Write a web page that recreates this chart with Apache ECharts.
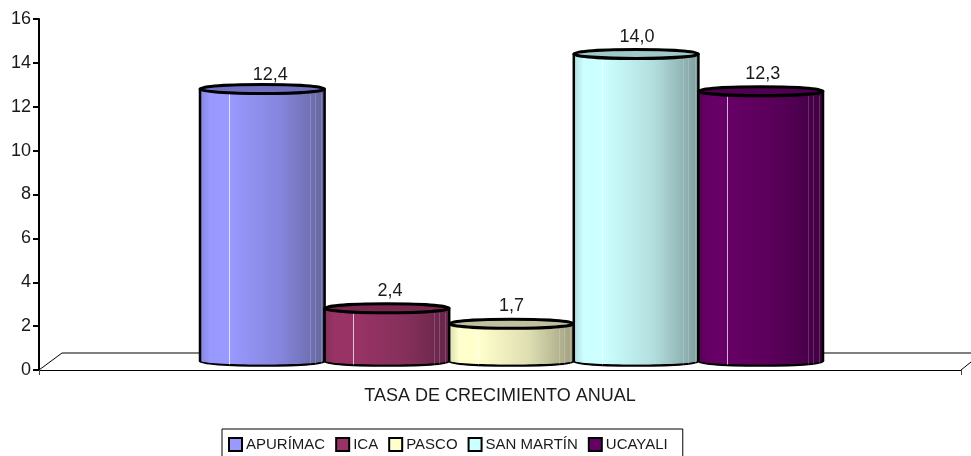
<!DOCTYPE html>
<html><head><meta charset="utf-8">
<style>html,body{margin:0;padding:0;background:#fff}#c{width:971px;height:456px}</style>
<script src="https://cdn.jsdelivr.net/npm/echarts@6/dist/echarts.min.js"></script>
</head><body><div id="c"></div>
<script>
const regions = ['APURÍMAC','ICA','PASCO','SAN MARTÍN','UCAYALI'];
const values = [12.4,2.4,1.7,14.0,12.3];
const colors = ['#9999ff','#993366','#ffffcc','#ccffff','#660066'];
const midShade = ['#8585dd','#85305a','#ddddb2','#b2dddd','#580058'];
const shaded = ['#66669f','#66244a','#9f9f80','#809f9f','#400040'];
const topShade = ['#7070c0','#7a2850','#c0c0a0','#a0c8c8','#500050'];
const labelNudgeX = [8,3,0,1,2];
const labelNudgeY = [2.5,-1.5,-1.5,-1,-1];
const yTicks = [0,2,4,6,8,10,12,14,16];
const category = ['TASA DE CRECIMIENTO ANUAL'];
const FONT = '"Liberation Sans",Arial,sans-serif';
const chart = echarts.init(document.getElementById('c'));

function cylinder(idx){
  return function(params, api){
    const p = api.coord([regions[idx], values[idx]]);
    const base = api.coord([regions[idx], 0]);
    const w = api.size([1,0])[0];
    const l = p[0]-w/2, r = p[0]+w/2, cx = p[0], rx = w/2, ry = 4.5;
    const grad = {type:'linear',x:0,y:0,x2:1,y2:0,colorStops:[
      {offset:0,color:midShade[idx]},{offset:0.08,color:colors[idx]},{offset:0.24,color:colors[idx]},
      {offset:0.65,color:midShade[idx]},{offset:1,color:shaded[idx]}]};
    const edge = {stroke:'#000',lineWidth:2.5};
    const streak = (f,o)=>({type:'line',shape:{x1:Math.round(l+w*f)+0.5,y1:p[1]+ry,x2:Math.round(l+w*f)+0.5,y2:base[1]+ry-1},
      style:{stroke:'#fff',lineWidth:1,opacity:o}});
    return {type:'group',children:[
      {type:'ellipse',shape:{cx,cy:base[1],rx,ry},style:Object.assign({fill:shaded[idx]},edge)},
      {type:'rect',shape:{x:l,y:p[1],width:w,height:base[1]-p[1]},style:{fill:grad}},
      {type:'ellipse',shape:{cx,cy:base[1],rx:rx-1,ry:ry-1},style:{fill:grad}},
      streak(0.23,0.7),streak(0.88,0.18),streak(0.92,0.18),streak(0.97,0.18),
      {type:'line',shape:{x1:l,y1:p[1],x2:l,y2:base[1]},style:edge},
      {type:'line',shape:{x1:r,y1:p[1],x2:r,y2:base[1]},style:edge},
      {type:'ellipse',shape:{cx,cy:p[1],rx,ry},style:Object.assign({fill:topShade[idx]},edge,{lineWidth:3})},
      {type:'text',style:{text:values[idx].toFixed(1).replace('.',','),x:cx+labelNudgeX[idx],y:p[1]-7+labelNudgeY[idx],
        align:'center',verticalAlign:'bottom',font:'18px '+FONT,fill:'#1a1a1a'}}
    ]};
  };
}

chart.setOption({
  animation:false,
  backgroundColor:'#fff',
  grid:[
    {left:39,right:10,top:19,bottom:86},
    {left:200,right:148,top:10,bottom:95}
  ],
  xAxis:[
    {type:'category',gridIndex:0,data:category,
      axisLine:{lineStyle:{color:'#000',width:1}},
      axisTick:{show:true,length:5,alignWithLabel:false,lineStyle:{color:'#444'}},
      axisLabel:{color:'#1a1a1a',fontFamily:FONT,fontSize:18,margin:17}},
    {type:'category',gridIndex:1,data:regions,show:false}
  ],
  yAxis:[
    {type:'value',gridIndex:0,min:0,max:16,interval:2,
      axisLine:{show:true,lineStyle:{color:'#000',width:2}},
      axisTick:{show:true,length:6,lineStyle:{color:'#000',width:2}},
      splitLine:{show:false},
      axisLabel:{color:'#1a1a1a',fontFamily:FONT,fontSize:18,margin:8,
        formatter:v=>yTicks.includes(v)?String(v):''}},
    {type:'value',gridIndex:1,min:0,max:16,interval:2,show:false,splitLine:{show:false}}
  ],
  legend:{
    data:regions,left:222,top:429,itemWidth:13,itemHeight:13,itemGap:10,
    icon:'rect',padding:[8,15,10,6],borderColor:'#000',borderWidth:1,
    textStyle:{color:'#1a1a1a',fontFamily:FONT,fontSize:15,padding:[0,0,0,-1]},
    itemStyle:{borderColor:'#000',borderWidth:2}
  },
  graphic:[
    {type:'polyline',z:0,silent:true,shape:{points:[[39,370],[62,353],[971,353]]},style:{stroke:'#000',lineWidth:1,fill:null}},
    {type:'line',z:0,silent:true,shape:{x1:961,y1:370,x2:971,y2:362},style:{stroke:'#000',lineWidth:1}}
  ],
  series:regions.map((name,i)=>({
    name,type:'custom',xAxisIndex:1,yAxisIndex:1,
    itemStyle:{color:colors[i]},
    renderItem:cylinder(i),
    data:[[name,values[i]]],
    clip:false
  }))
});
</script></body></html>
